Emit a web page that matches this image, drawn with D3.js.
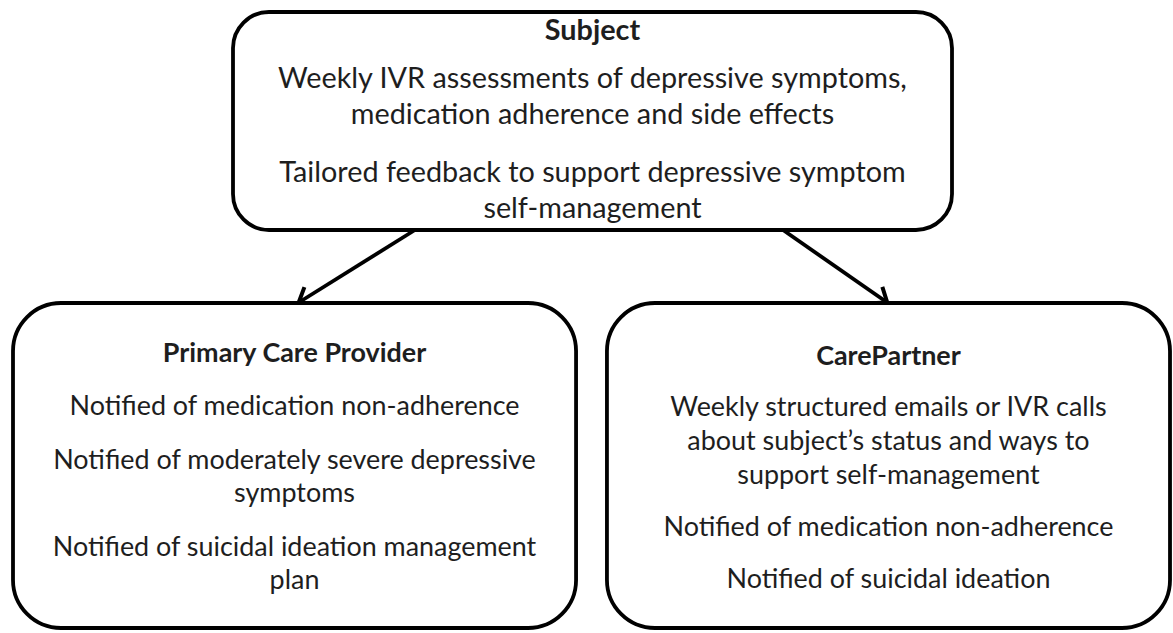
<!DOCTYPE html>
<html>
<head>
<meta charset="utf-8">
<script src="https://cdn.jsdelivr.net/npm/d3@7"></script>
<style>
  body { margin: 0; background: #fff; }
  text { font-family: Lato, "Noto Sans", sans-serif; fill: #1e1e1e; }
</style>
</head>
<body>
<div id="vis"></div>
<script>
// diagram content
const titles = ["Subject", "Primary Care Provider", "CarePartner"];
const subjectItems = [
  ["Weekly IVR assessments of depressive symptoms,", "medication adherence and side effects"],
  ["Tailored feedback to support depressive symptom", "self-management"]
];
const providerItems = [
  ["Notified of medication non-adherence"],
  ["Notified of moderately severe depressive", "symptoms"],
  ["Notified of suicidal ideation management", "plan"]
];
const partnerItems = [
  ["Weekly structured emails or IVR calls", "about subject\u2019s status and ways to", "support self-management"],
  ["Notified of medication non-adherence"],
  ["Notified of suicidal ideation"]
];
const links = [["Subject", "Primary Care Provider"], ["Subject", "CarePartner"]];

const width = 1173, height = 633;

const svg = d3.select("#vis").append("svg")
  .attr("width", width)
  .attr("height", height);

// fit font size so a reference line matches the original width
const probe = svg.append("text").style("font-size", "100px").text("Notified of medication non-adherence");
const fontSize = 100 * 450 / probe.node().getComputedTextLength();
probe.remove();

// layout
const bottomX = d3.scaleBand()
  .domain(titles.slice(1))
  .range([13, 1170])
  .paddingInner(0.052)
  .paddingOuter(0);

const layout = {
  "Subject": { x: 233, w: 719, y: 12, h: 218, r: 36, scale: 1.07, titleY: 28, firstY: 76, lineH: 36, gap: 22, items: subjectItems },
  "Primary Care Provider": { x: bottomX("Primary Care Provider"), w: bottomX.bandwidth(), y: 303, h: 325, r: 48, scale: 1, titleY: 59, firstY: 112, lineH: 33, gap: 21, items: providerItems },
  "CarePartner": { x: bottomX("CarePartner"), w: bottomX.bandwidth(), y: 303, h: 325, r: 48, scale: 1, titleY: 62, firstY: 113, lineH: 34, gap: 18, items: partnerItems }
};

svg.append("defs").append("marker")
  .attr("id", "head")
  .attr("markerUnits", "userSpaceOnUse")
  .attr("viewBox", "-3 -12 18 24")
  .attr("refX", 12)
  .attr("refY", 0)
  .attr("markerWidth", 18)
  .attr("markerHeight", 24)
  .attr("orient", "auto")
  .append("path")
  .attr("d", "M0,-10L13,0L0,10")
  .attr("fill", "none")
  .attr("stroke", "#000")
  .attr("stroke-width", 4)
  .attr("stroke-linejoin", "miter");

// arrows: leave from the bottom of the subject box
const startFrac = { "Primary Care Provider": 0.253, "CarePartner": 0.765 };
const tipShift = { "Primary Care Provider": 5, "CarePartner": -2 };

svg.selectAll("line.link")
  .data(links)
  .enter()
  .append("line")
  .attr("class", "link")
  .attr("x1", d => layout[d[0]].x + layout[d[0]].w * startFrac[d[1]])
  .attr("y1", d => layout[d[0]].y + layout[d[0]].h)
  .attr("x2", d => layout[d[1]].x + layout[d[1]].w / 2 + tipShift[d[1]])
  .attr("y2", d => layout[d[1]].y - 1)
  .attr("stroke", "#000")
  .attr("stroke-width", 3.8)
  .attr("marker-end", "url(#head)");

const boxes = svg.selectAll("g.box")
  .data(titles)
  .enter()
  .append("g")
  .attr("class", "box")
  .attr("transform", d => `translate(${layout[d].x},${layout[d].y})`);

boxes.append("rect")
  .attr("width", d => layout[d].w)
  .attr("height", d => layout[d].h)
  .attr("rx", d => layout[d].r)
  .attr("ry", d => layout[d].r)
  .attr("fill", "#fff")
  .attr("stroke", "#000")
  .attr("stroke-width", 3.8);

boxes.append("text")
  .attr("x", d => layout[d].w / 2)
  .attr("y", d => layout[d].titleY)
  .attr("text-anchor", "middle")
  .style("font-size", d => fontSize * layout[d].scale + "px")
  .style("font-weight", "bold")
  .text(d => d);

boxes.each(function (d) {
  const L = layout[d];
  const rows = [];
  let y = L.firstY;
  L.items.forEach((para, i) => {
    if (i > 0) y += L.gap;
    para.forEach((line, j) => {
      if (j > 0) y += L.lineH;
      rows.push({ line, y });
    });
    y += L.lineH;
  });
  d3.select(this).selectAll("text.item")
    .data(rows)
    .enter()
    .append("text")
    .attr("class", "item")
    .attr("x", L.w / 2)
    .attr("y", r => r.y)
    .attr("text-anchor", "middle")
    .style("font-size", fontSize * L.scale + "px")
    .text(r => r.line);
});
</script>
</body>
</html>
